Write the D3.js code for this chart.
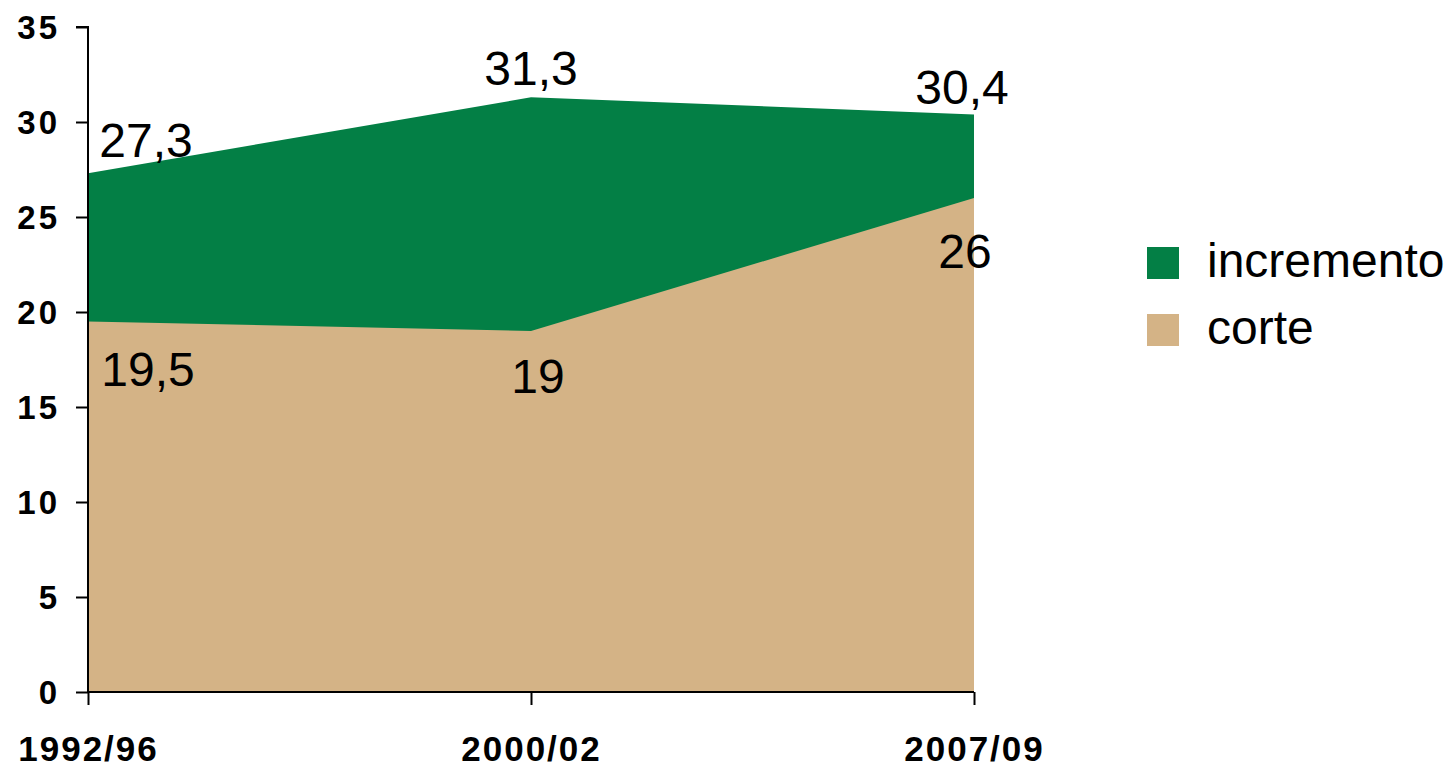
<!DOCTYPE html>
<html>
<head>
<meta charset="utf-8">
<script src="https://cdn.jsdelivr.net/npm/d3@7"></script>
<style>
  html, body { margin: 0; padding: 0; background: #fff; }
  svg { display: block; }
</style>
</head>
<body>
<svg id="chart" width="1447" height="770"></svg>
<script>
// ---- data ----
const categories = ["1992/96", "2000/02", "2007/09"];
const incremento = [27.3, 31.3, 30.4];
const corte = [19.5, 19, 26];
const incrementoLabels = ["27,3", "31,3", "30,4"];
const corteLabels = ["19,5", "19", "26"];
const yTicks = [0, 5, 10, 15, 20, 25, 30, 35];
const seriesNames = ["incremento", "corte"];
const seriesColors = ["#037f45", "#d4b386"];

// ---- layout ----
const svg = d3.select("#chart");
const x = d3.scalePoint().domain(categories).range([88, 974]);
const y = d3.scaleLinear().domain([0, 35]).range([692, 27]);

// label offsets (layout only)
const incOffsets = [[58, -16, "middle"], [0, -12, "middle"], [-12, -10, "middle"]];
const corOffsets = [[60, 64, "middle"], [7, 62, "middle"], [-9, 70, "middle"]];

const areaGen = d3.area().x((d, i) => x(categories[i])).y0(y(0)).y1(d => y(d));
svg.append("path").datum(incremento).attr("d", areaGen).attr("fill", seriesColors[0]);
svg.append("path").datum(corte).attr("d", areaGen).attr("fill", seriesColors[1]);

const font = "Liberation Sans, Arial, sans-serif";

// axes
const yAxis = d3.axisLeft(y).tickValues(yTicks).tickSize(12).tickPadding(16);
const gy = svg.append("g").attr("transform", "translate(88,0)").call(yAxis);
gy.select(".domain").attr("stroke", "#000").attr("stroke-width", 2).attr("d", "M-12,27H0V692");
gy.selectAll(".tick line").attr("stroke", "#000").attr("stroke-width", 2);
gy.selectAll(".tick text")
  .attr("fill", "#000")
  .style("font-family", font)
  .style("font-weight", "bold")
  .style("font-size", "33px")
  .style("letter-spacing", "3px")
  .attr("dy", "0.36em");

const xAxis = d3.axisBottom(x).tickSize(13).tickPadding(31);
const gx = svg.append("g").attr("transform", "translate(0,692)").call(xAxis);
gx.select(".domain").attr("stroke", "#000").attr("stroke-width", 2).attr("d", "M88,0H974");
gx.selectAll(".tick line").attr("stroke", "#000").attr("stroke-width", 2);
gx.selectAll(".tick text")
  .attr("fill", "#000")
  .style("font-family", font)
  .style("font-weight", "bold")
  .style("font-size", "35px")
  .style("letter-spacing", "2px");

// value labels
svg.append("g").selectAll("text").data(incremento).join("text")
  .attr("x", (d, i) => x(categories[i]) + incOffsets[i][0])
  .attr("y", (d, i) => y(d) + incOffsets[i][1])
  .attr("text-anchor", (d, i) => incOffsets[i][2])
  .style("font-family", font).style("font-size", "48px").attr("fill", "#000")
  .text((d, i) => incrementoLabels[i]);
svg.append("g").selectAll("text").data(corte).join("text")
  .attr("x", (d, i) => x(categories[i]) + corOffsets[i][0])
  .attr("y", (d, i) => y(d) + corOffsets[i][1])
  .attr("text-anchor", (d, i) => corOffsets[i][2])
  .style("font-family", font).style("font-size", "48px").attr("fill", "#000")
  .text((d, i) => corteLabels[i]);

// legend
const lg = svg.append("g");
seriesNames.forEach((name, i) => {
  const yy = 247 + i * 67;
  lg.append("rect").attr("x", 1147).attr("y", yy).attr("width", 32).attr("height", 32).attr("fill", seriesColors[i]);
  lg.append("text").attr("x", 1207).attr("y", yy + 30)
    .style("font-family", font).style("font-size", "48px").attr("fill", "#000")
    .text(name);
});
</script>
</body>
</html>
